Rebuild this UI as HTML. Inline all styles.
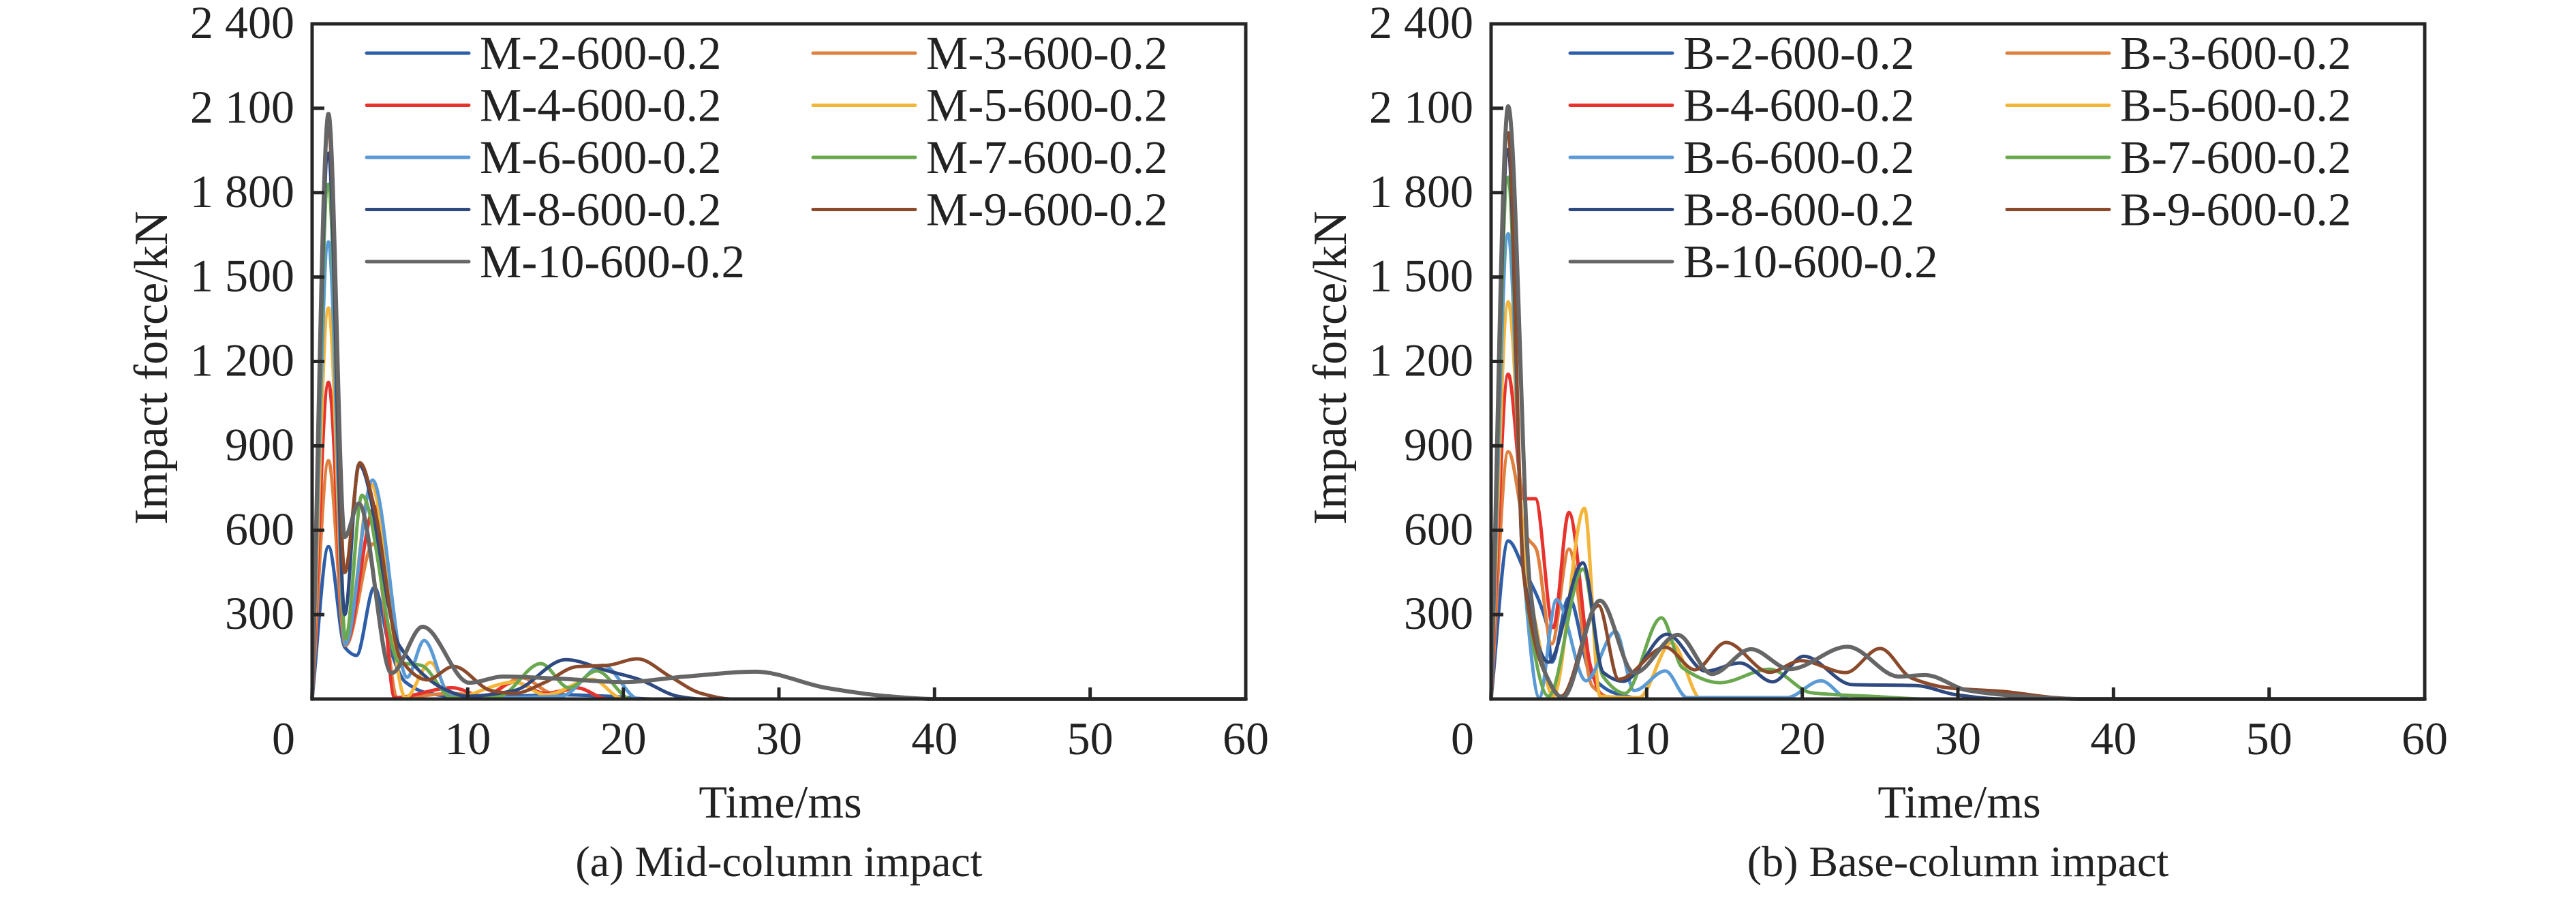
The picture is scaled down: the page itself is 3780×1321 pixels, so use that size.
<!DOCTYPE html>
<html><head><meta charset="utf-8"><style>
html,body{margin:0;padding:0;background:#fff;}
svg{display:block;font-family:"Liberation Serif","Times New Roman",serif;}
</style></head><body>
<svg id="chart" width="3780" height="1321" viewBox="0 0 3780 1321" xmlns="http://www.w3.org/2000/svg"></svg>
<script>
// ---------- data ----------
const xTicks=[0,10,20,30,40,50,60];
const yTicks=[300,600,900,1200,1500,1800,2100,2400];
const yTickLabels=["300","600","900","1 200","1 500","1 800","2 100","2 400"];
const seriesColors=["#2e5ea8","#e0803f","#e8322d","#f4b63a","#5b9bd5","#6aa84f","#2f4a80","#8b4a2b","#666666"];
const mNames=["M-2-600-0.2","M-3-600-0.2","M-4-600-0.2","M-5-600-0.2","M-6-600-0.2","M-7-600-0.2","M-8-600-0.2","M-9-600-0.2","M-10-600-0.2"];
const bNames=["B-2-600-0.2","B-3-600-0.2","B-4-600-0.2","B-5-600-0.2","B-6-600-0.2","B-7-600-0.2","B-8-600-0.2","B-9-600-0.2","B-10-600-0.2"];

// Mid-column series
const m2T=[0,1.05,2.1,2.85,4.0,5.0,6.0,7.5,10,13,16,19,22,60];
const m2F=[0,542,184,155,397,180,60,20,5,10,15,10,0,0];
const m3T=[0,1.05,2.15,3.93,5.5,9,11,13.5,15.5,17,19,60];
const m3F=[0,847,190,552,5,20,10,75,20,40,0,0];
const m4T=[0,1.05,2.15,4.03,5.3,9,11,13,15,17,19,60];
const m4F=[0,1126,195,685,5,40,10,60,20,40,0,0];
const m5T=[0,1.05,2.15,3.8,6.0,7.6,9,13,15,18,20,60];
const m5F=[0,1390,195,763,5,130,5,60,15,70,0,0];
const m6T=[0,1.05,2.15,3.88,6.1,7.2,8.9,12,16,18.7,21,60];
const m6F=[0,1625,195,778,77,208,10,5,10,120,0,0];
const m7T=[0,1.05,2.15,3.2,5.6,7.0,9,12,14.7,16.5,18.3,20.5,60];
const m7F=[0,1830,213,724,130,120,5,10,126,40,100,0,0];
const m8T=[0,1.05,2.1,3.0,5.6,8.7,10,13,16.3,19,21,23.5,25,60];
const m8F=[0,1940,300,833,190,30,10,30,140,100,70,10,0,0];
const m9T=[0,1.05,2.1,3.07,4.0,5.7,7.4,9.1,11.5,13,15,17,19,20.9,23,25,27,60];
const m9F=[0,2030,450,840,680,140,68,116,30,20,60,115,120,143,80,20,0,0];
const m10T=[0,1.05,2.1,3.0,5.1,7.1,10.1,12.3,16,20,24,28.5,33,37,40,60];
const m10F=[0,2080,576,695,92,257,58,80,72,60,80,97,40,10,0,0];

// Base-column series
const b2T=[0,1.1,2.1,3.6,3.9,5.0,6.4,8,10,60];
const b2F=[0,562,462,262,131,360,87,20,0,0];
const b3T=[0,1.1,2.3,2.9,3.9,5.0,6.5,8,60];
const b3F=[0,879,576,533,196,533,46,0,0];
const b4T=[0,1.1,2.1,2.85,4.0,5.0,6.4,7.2,9,60];
const b4F=[0,1155,712,712,254,663,115,10,0,0];
const b5T=[0,1.1,2.2,2.85,4.0,6.0,7.0,9.5,11.6,13.5,60];
const b5F=[0,1412,480,270,10,678,10,5,200,0,0];
const b6T=[0,1.1,2.1,3.1,4.2,6.1,8.0,9.2,11.2,12.6,19,21.2,23,60];
const b6F=[0,1654,450,5,353,65,240,30,100,5,5,65,0,0];
const b7T=[0,1.1,2.1,3.7,5.9,7.2,8.6,10.95,12.3,14.7,17.9,20.6,25,28,60];
const b7F=[0,1855,440,10,462,80,20,289,111,58,106,22,8,0,0];
const b8T=[0,1.1,2.1,3.7,5.9,7.2,8.5,11.3,13.8,16,18.1,20.1,23.2,27.3,29.9,33,60];
const b8F=[0,1954,440,131,484,95,63,230,99,128,61,152,51,48,15,0,0];
const b9T=[0,1.1,2.1,3.4,4.5,6.9,8.2,11.2,13.1,15.1,17.9,19.9,22.8,25,27,29.5,32.9,36.2,38,60];
const b9F=[0,2013,440,100,10,332,70,184,104,201,95,136,94,180,75,39,27,5,0,0];
const b10T=[0,1.1,2.5,3.5,4.6,7.0,9.2,12,14.2,16.7,19.2,22.9,26.2,27.9,30.6,34,38,60];
const b10F=[0,2107,400,90,5,350,92,228,89,177,106,186,80,85,31,10,0,0];

const mSeriesT=[m2T,m3T,m4T,m5T,m6T,m7T,m8T,m9T,m10T];
const mSeriesF=[m2F,m3F,m4F,m5F,m6F,m7F,m8F,m9F,m10F];
const bSeriesT=[b2T,b3T,b4T,b5T,b6T,b7T,b8T,b9T,b10T];
const bSeriesF=[b2F,b3F,b4F,b5F,b6F,b7F,b8F,b9F,b10F];

// ---------- drawing ----------
const NS="http://www.w3.org/2000/svg";
const svg=document.getElementById('chart');
function mk(tag,attrs,parent){const e=document.createElementNS(NS,tag);for(const k in attrs)e.setAttribute(k,attrs[k]);(parent||svg).appendChild(e);return e;}

function monoPath(xs,ys){
  const n=xs.length;const d=[],m=[];
  for(let i=0;i<n-1;i++){d.push((ys[i+1]-ys[i])/(xs[i+1]-xs[i]));}
  m[0]=d[0];m[n-1]=d[n-2];
  for(let i=1;i<n-1;i++){ if(d[i-1]*d[i]<=0)m[i]=0; else m[i]=2/(1/d[i-1]+1/d[i]); }
  let p="M"+xs[0].toFixed(1)+","+ys[0].toFixed(1);
  for(let i=0;i<n-1;i++){const h=xs[i+1]-xs[i];
    p+=" C"+(xs[i]+h/3).toFixed(1)+","+(ys[i]+m[i]*h/3).toFixed(1)+" "+(xs[i+1]-h/3).toFixed(1)+","+(ys[i+1]-m[i+1]*h/3).toFixed(1)+" "+xs[i+1].toFixed(1)+","+ys[i+1].toFixed(1);}
  return p;
}

function drawPanel(cfg){
  const g=mk('g',{});
  
  
  const L=cfg.left,R=cfg.left+1370,T=35,B=1026;
  const xs=t=>L+(t/60)*(R-L);
  const ys=f=>B-(f/2400)*(B-T);
  // series
  const sg=mk('g',{fill:'none','stroke-linejoin':'round','stroke-linecap':'round'},g);
  
  
  for(let s=0;s<cfg.T.length;s++){
    const px=cfg.T[s].map(xs),py=cfg.F[s].map(ys);
    const p=mk('path',{d:monoPath(px,py),stroke:seriesColors[s],'stroke-width':s===8?6:5},sg);
    
    
  }
  // frame
  const fr=mk('rect',{x:L,y:T,width:R-L,height:B-T,fill:'none',stroke:'#262626','stroke-width':5},g);
  
  
  // x ticks
  xTicks.forEach((v,i)=>{
    const x=xs(v);
    if(i>0&&i<xTicks.length-1){const tk=mk('line',{x1:x,x2:x,y1:B,y2:B-17,stroke:'#262626','stroke-width':5},g);
      }
    const tx=(i===0)?x-42:x;
    const t=mk('text',{x:tx,y:1107,'font-size':68,'text-anchor':'middle',fill:'#222'},g);
    t.textContent=String(v);
    
    
  });
  // y ticks
  yTicks.forEach((v,i)=>{
    const y=ys(v);
    if(i<yTicks.length-1){const tk=mk('line',{x1:L,x2:L+18,y1:y,y2:y,stroke:'#262626','stroke-width':5},g);
      }
    const t=mk('text',{x:L-26,y:y+21,'font-size':68,'text-anchor':'end',fill:'#222'},g);
    t.textContent=yTickLabels[i];
    
    
  });
  // axis titles
  const yt=mk('text',{x:0,y:0,'font-size':70,'text-anchor':'middle',fill:'#222',transform:'translate('+(L-213)+',540) rotate(-90)'},g);
  yt.textContent='Impact force/kN';
  
  
  const xt=mk('text',{x:L+687,y:1200,'font-size':68,'text-anchor':'middle',fill:'#222'},g);
  xt.textContent='Time/ms';
  
  
  const cp=mk('text',{x:L+685,y:1286,'font-size':64,'text-anchor':'middle',fill:'#222'},g);
  cp.textContent=cfg.caption;
  
  
  // legend
  const lg=mk('g',{},g);
  
  
  cfg.names.forEach((nm,s)=>{
    const col=s===8?0:s%2,row=s===8?4:Math.floor(s/2);
    const lx=cfg.legX[col],ly=78+row*76.5;
    const e=mk('g',{},lg);
    
    
    mk('line',{x1:lx,x2:lx+150,y1:ly,y2:ly,stroke:seriesColors[s],'stroke-width':5,'stroke-linecap':'round'},e);
    const t=mk('text',{x:lx+166,y:ly+23,'font-size':69,fill:'#222'},e);
    t.textContent=nm;
  });
}

drawPanel({id:'mid-column',left:458,names:mNames,T:mSeriesT,F:mSeriesF,caption:'(a) Mid-column impact',legX:[538,1193]});
drawPanel({id:'base-column',left:2188,names:bNames,T:bSeriesT,F:bSeriesF,caption:'(b) Base-column impact',legX:[2304,2945]});
</script>
</body></html>
